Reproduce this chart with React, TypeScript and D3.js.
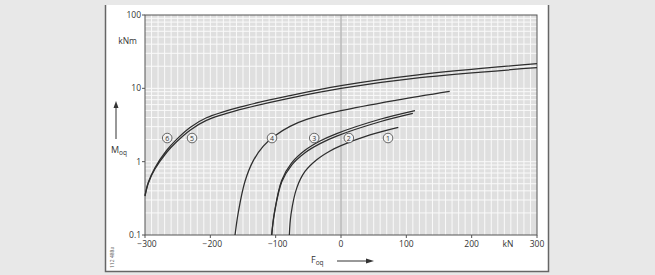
import React from "react";
import * as d3 from "d3";

const xTicks = [-300, -200, -100, 0, 100, 200, 300];
const xTickLabels = ["\u2212300", "\u2212200", "\u2212100", "0", "100", "200", "300"];
const yTicks = [100, 10, 1, 0.1];
const yTickLabels = ["100", "10", "1", "0.1"];

const c6F = [-300, -295, -285, -267, -252, -231, -206, -155, -78, 0, 121, 300];
const c6M = [0.344, 0.52, 0.82, 1.42, 2.0, 2.93, 3.97, 5.55, 7.97, 10.9, 15.4, 21.7];
const c5F = [-300, -295, -285, -267, -252, -231, -206, -155, -78, 0, 121, 300];
const c5M = [0.34, 0.508, 0.788, 1.334, 1.854, 2.69, 3.65, 5.12, 7.37, 10.0, 14.0, 19.1];
const c4F = [-162.2, -157.2, -147, -134.2, -118.9, -101, -78, -52.5, 0, 85.3, 166.4];
const c4M = [0.1, 0.204, 0.537, 1.032, 1.627, 2.262, 3.03, 3.77, 4.96, 6.92, 9.12];
const c3F = [-106.1, -102.1, -90.8, -75.5, -55.1, -32.1, -6.6, 59.7, 113.3];
const c3M = [0.1, 0.198, 0.554, 0.96, 1.426, 1.91, 2.416, 3.79, 4.98];
const c2F = [-106.1, -102.1, -90.8, -75.5, -55.1, -32.1, -6.6, 59.7, 110];
const c2M = [0.1, 0.193, 0.528, 0.9, 1.326, 1.765, 2.232, 3.5, 4.55];
const c1F = [-79.1, -76.5, -67.8, -55.1, -37.2, -16.8, 0, 44.4, 87.7];
const c1M = [0.1, 0.192, 0.436, 0.735, 1.061, 1.399, 1.653, 2.313, 2.936];

const curveLabels = ["6", "5", "4", "3", "2", "1"];
const labelF = [-266, -228, -105.6, -41, 12, 72];
const labelM = [2.1, 2.1, 2.1, 2.1, 2.1, 2.1];

export default function App() {
  const W = 655, H = 275;
  const x = d3.scaleLinear().domain([-300, 300]).range([145, 537]);
  const y = d3.scaleLog().domain([0.1, 100]).range([235, 15]);

  const curves = [
    [c6F, c6M], [c5F, c5M], [c4F, c4M], [c3F, c3M], [c2F, c2M], [c1F, c1M],
  ];
  const line = d3
    .line<[number, number]>()
    .x((d) => x(d[0]))
    .y((d) => y(d[1]))
    .curve(d3.curveCatmullRom.alpha(0.5));

  const vGrid = d3.range(-290, 300, 10);
  const hGrid: number[] = [];
  [0.1, 1, 10].forEach((b) => {
    for (let k = 1; k <= 9; k++) {
      const v = b * k;
      if (v > 0.1 && v < 100) hGrid.push(v);
    }
  });

  const font = "'Open Sans', 'DejaVu Sans', sans-serif";
  const txt = "#333";

  return (
    <svg
      width={W}
      height={H}
      style={{ position: "absolute", left: 0, top: 0 }}
      fontFamily={font}
    >
      <rect x={0} y={0} width={W} height={H} fill="#e8e8e8" />
      <rect x={105} y={5} width={443} height={266} fill="#ffffff" />
      <path d="M105.5,5 V271.5 H548.5 V5" fill="none" stroke="#666" strokeWidth={1.5} />

      <rect x={x(-300)} y={y(100)} width={x(300) - x(-300)} height={y(0.1) - y(100)} fill="#dfdfdf" />
      {vGrid.map((v) => (
        <line key={"v" + v} x1={x(v)} x2={x(v)} y1={y(100)} y2={y(0.1)} stroke="#fafafa" strokeWidth={1} />
      ))}
      {hGrid.map((v) => (
        <line key={"h" + v} x1={x(-300)} x2={x(300)} y1={y(v)} y2={y(v)} stroke="#fafafa" strokeWidth={1} />
      ))}
      <line x1={x(0)} x2={x(0)} y1={y(100)} y2={y(0.1)} stroke="#9a9a9a" strokeWidth={1} />

      <rect x={x(-300)} y={y(100)} width={x(300) - x(-300)} height={y(0.1) - y(100)} fill="none" stroke="#555" strokeWidth={1} />

      {yTicks.map((v, i) => (
        <g key={"yt" + v}>
          <line x1={x(-300) - 3} x2={x(-300)} y1={y(v)} y2={y(v)} stroke="#555" />
          <text x={x(-300) - 4} y={y(v) + 3} fontSize={8.5} textAnchor="end" fill={txt}>
            {yTickLabels[i]}
          </text>
        </g>
      ))}
      {xTicks.map((v, i) => (
        <g key={"xt" + v}>
          <line x1={x(v)} x2={x(v)} y1={y(0.1)} y2={y(0.1) + 3} stroke="#555" />
          <text x={x(v) + (v < 0 ? 2 : 0)} y={y(0.1) + 12} fontSize={8.5} textAnchor="middle" fill={txt}>
            {xTickLabels[i]}
          </text>
        </g>
      ))}
      <text x={508} y={y(0.1) + 12} fontSize={8.5} textAnchor="middle" fill={txt}>kN</text>
      <text x={137} y={44} fontSize={8.5} textAnchor="end" fill={txt}>kNm</text>

      {curves.map((c, i) => {
        const pts = c[0].map((f, j) => [f, c[1][j]] as [number, number]);
        return <path key={"c" + i} d={line(pts) || ""} fill="none" stroke="#2e2e2e" strokeWidth={1.25} />;
      })}

      {curveLabels.map((l, i) => (
        <g key={"l" + l}>
          <circle cx={x(labelF[i])} cy={y(labelM[i])} r={4.8} fill="#f2f2f2" stroke="#444" strokeWidth={0.8} />
          <text x={x(labelF[i])} y={y(labelM[i]) + 2.5} fontSize={7} textAnchor="middle" fill={txt}>{l}</text>
        </g>
      ))}

      {/* Y axis label with arrow */}
      <line x1={116} x2={116} y1={139} y2={107} stroke="#333" strokeWidth={1} />
      <path d="M113.5,108 L116,101 L118.5,108 Z" fill="#333" />
      <text x={111} y={153} fontSize={9} fill={txt}>
        M<tspan fontSize={6.5} dy={2}>oq</tspan>
      </text>

      {/* X axis label with arrow */}
      <text x={311} y={263} fontSize={9} fill={txt}>
        F<tspan fontSize={6.5} dy={2}>oq</tspan>
      </text>
      <line x1={337} x2={367} y1={261} y2={261} stroke="#333" strokeWidth={1} />
      <path d="M366,258.5 L374,261 L366,263.5 Z" fill="#333" />

      <text
        transform="translate(114,268) rotate(-90)"
        fontSize={5}
        fill="#555"
      >
        112 488a
      </text>
    </svg>
  );
}
